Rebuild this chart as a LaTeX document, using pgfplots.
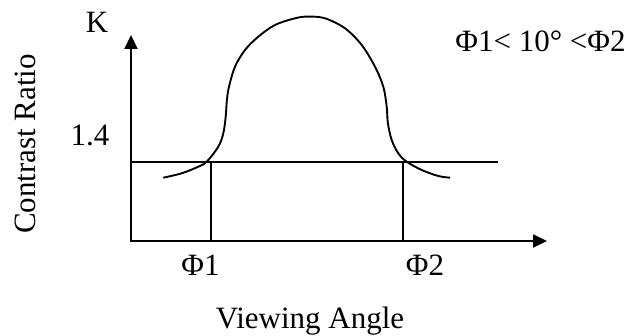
\documentclass[border=0pt]{standalone}
\usepackage{pgfplots}
\pgfplotsset{compat=1.18}
\usetikzlibrary{arrows.meta}
\usepackage{fontspec}
\setmainfont{Liberation Serif}

\tikzset{lbl/.style={font=\fontsize{31}{37}\selectfont, inner sep=0pt, anchor=base}}

\begin{document}
\begin{tikzpicture}
  \begin{axis}[
      scale only axis,
      width=633pt, height=336pt,
      xmin=0, xmax=633, ymin=0, ymax=336,
      y dir=reverse,
      axis lines=none,
      clip=false,
    ]
    % keep the page at the reference size
    \path (axis cs:0,0) rectangle (axis cs:633,336);

    % axes with arrow heads
    \addplot[black, line width=1.9pt, line join=miter,
             {Triangle[length=14pt,width=13pt]}-{Triangle[length=14pt,width=13pt]}]
      coordinates {(131,35) (131,241) (547,241)};

    % threshold line K = 1.4
    \addplot[black, line width=1.9pt] coordinates {(131,162) (498,162)};

    % drop lines at the two crossings
    \addplot[black, line width=1.9pt] coordinates {(210.7,162) (210.7,241)};
    \addplot[black, line width=1.9pt] coordinates {(402.7,162) (402.7,241)};

    % contrast ratio curve
    \addplot[black, line width=1.9pt, smooth, tension=0.55] coordinates {
      (163.3,177.7) (181.7,173.3) (198.3,166.7) (206.7,161.7)
      (218.3,146.7) (223.3,133.3) (225.7,116.7) (226.9,100)
      (229,86.7) (235,66.7) (245,50) (258.3,36.7) (275,25)
      (295,18.3) (308,16.6) (325,18.3) (345,28.3) (361.7,45)
      (375,66.7) (383.3,86.7) (386.7,106.7) (387.9,123.3)
      (391.7,140) (398.3,153.3) (406.7,161.7) (421.7,170)
      (438.3,176) (450,177.7)
    };

    % labels
    \node[lbl] at (axis cs:97,33) {K};
    \node[lbl] at (axis cs:90,146) {1.4};
    \node[lbl, rotate=90] at (axis cs:35,144) {Contrast Ratio};
    \node[lbl] at (axis cs:200.5,276) {Φ1};
    \node[lbl] at (axis cs:425,276) {Φ2};
    \node[lbl] at (axis cs:310,329) {Viewing Angle};
    \node[lbl] at (axis cs:540.5,52) {Φ1< 10° <Φ2};
  \end{axis}
\end{tikzpicture}
\end{document}
